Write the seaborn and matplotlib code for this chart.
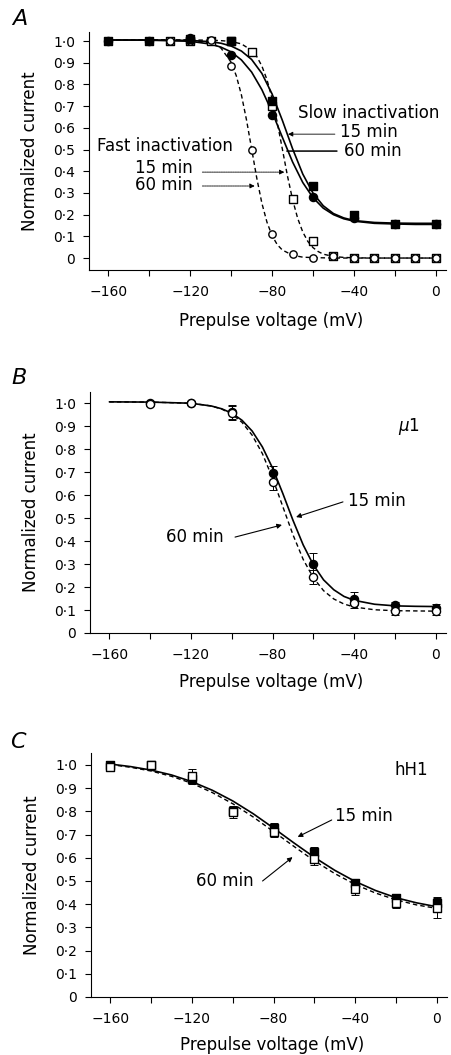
import matplotlib
matplotlib.use("Agg")
import matplotlib.pyplot as plt
import seaborn as sns
import pandas as pd

# ---- panel A: slow / fast inactivation (mu1) ----
A_V_slow = [-160, -140, -120, -100, -80, -60, -40, -20, 0]
A_slow15 = [1.0, 1.0, 1.01, 1.0, 0.725, 0.33, 0.20, 0.155, 0.155]
A_slow60 = [1.0, 1.0, 1.015, 0.935, 0.66, 0.28, 0.185, 0.155, 0.155]

A_V_fast = [-130, -120, -110, -100, -90, -80, -70, -60, -50, -40, -30, -20, -10, 0]
A_fast15 = [1.0, 1.0, 1.0, 1.0, 0.95, 0.70, 0.27, 0.08, 0.01, 0.0, 0.0, 0.0, 0.0, 0.0]
A_fast60 = [1.0, 1.0, 1.005, 0.885, 0.50, 0.11, 0.02, 0.0, 0.01, 0.0, 0.0, 0.0, 0.0, 0.0]

# fitted curves
fit_V = [-160, -140, -120, -110, -105, -100, -95, -90, -85, -80, -75, -70, -65,
         -60, -55, -50, -45, -40, -30, -20, -10, 0]
A_fit_slow15 = [1.005, 1.005, 1.003, 0.997, 0.990, 0.977, 0.954, 0.915, 0.851, 0.756, 0.635,
                0.504, 0.387, 0.299, 0.241, 0.205, 0.185, 0.173, 0.164, 0.161, 0.160, 0.160]
A_fit_slow60 = [1.005, 1.004, 0.999, 0.986, 0.972, 0.950, 0.913, 0.857, 0.776, 0.673, 0.557,
                0.443, 0.348, 0.278, 0.230, 0.200, 0.181, 0.170, 0.160, 0.157, 0.155, 0.155]
A_fit_fast15_V = [-160, -140, -120, -110, -105, -100, -95, -90, -87.5, -85, -82.5, -80, -77.5,
                  -75, -72.5, -70, -67.5, -65, -62.5, -60, -57.5, -55, -50, -45, -40, -30, -20, -10, 0]
A_fit_fast15 = [1.005, 1.005, 1.005, 1.004, 1.002, 0.998, 0.987, 0.957, 0.929, 0.885, 0.822, 0.735,
                0.626, 0.503, 0.379, 0.270, 0.183, 0.120, 0.076, 0.048, 0.030, 0.018, 0.007,
                0.003, 0.001, 0, 0, 0, 0]
A_fit_fast60_V = [-160, -140, -120, -110, -105, -100, -97.5, -95, -92.5, -90, -87.5, -85, -82.5,
                  -80, -77.5, -75, -70, -65, -60, -50, -40, -30, -20, -10, 0]
A_fit_fast60 = [1.005, 1.005, 1.004, 0.992, 0.968, 0.902, 0.840, 0.752, 0.636, 0.503, 0.369, 0.253,
                0.165, 0.103, 0.062, 0.037, 0.013, 0.004, 0.002, 0, 0, 0, 0, 0, 0]

# ---- panel B: mu1 ----
B_V = [-140, -120, -100, -80, -60, -40, -20, 0]
B_15 = [1.0, 1.0, 0.96, 0.695, 0.30, 0.15, 0.12, 0.11]
B_15_err = [0.01, 0.01, 0.03, 0.03, 0.05, 0.03, 0.015, 0.015]
B_60 = [0.995, 1.0, 0.955, 0.655, 0.245, 0.13, 0.095, 0.095]
B_60_err = [0.01, 0.01, 0.03, 0.035, 0.03, 0.02, 0.015, 0.015]
B_fit15 = [1.005, 1.004, 0.999, 0.987, 0.975, 0.956, 0.925, 0.878, 0.809, 0.717, 0.607,
           0.490, 0.383, 0.296, 0.231, 0.188, 0.159, 0.142, 0.125, 0.118, 0.116, 0.115]
B_fit60 = [1.005, 1.004, 0.999, 0.987, 0.974, 0.952, 0.916, 0.860, 0.780, 0.673, 0.550,
           0.427, 0.320, 0.240, 0.184, 0.148, 0.126, 0.113, 0.101, 0.097, 0.096, 0.095]

# ---- panel C: hH1 ----
C_V = [-160, -140, -120, -100, -80, -60, -40, -20, 0]
C_15 = [1.0, 1.0, 0.94, 0.80, 0.73, 0.625, 0.49, 0.427, 0.405]
C_15_err = [0.01, 0.01, 0.02, 0.02, 0.02, 0.02, 0.015, 0.015, 0.02]
C_60 = [0.99, 1.0, 0.953, 0.797, 0.71, 0.595, 0.465, 0.405, 0.384]
C_60_err = [0.01, 0.01, 0.03, 0.025, 0.02, 0.025, 0.025, 0.02, 0.045]
C_fit_V = [-160, -150, -140, -130, -120, -110, -100, -90, -80, -70, -60, -50, -40, -30, -20, -10, 0]
C_fit15 = [1.004, 0.993, 0.978, 0.957, 0.928, 0.891, 0.845, 0.790, 0.728, 0.664, 0.602,
           0.546, 0.498, 0.459, 0.428, 0.406, 0.389]
C_fit60 = [1.002, 0.990, 0.974, 0.951, 0.921, 0.881, 0.833, 0.776, 0.713, 0.649, 0.587,
           0.532, 0.485, 0.448, 0.419, 0.397, 0.382]

y_ticks = [i / 10 for i in range(11)]
y_ticklabels = ["0"] + ["0\u00b7%d" % i for i in range(1, 10)] + ["1\u00b70"]
x_ticks = list(range(-160, 1, 20))
x_ticklabels = ["\u2212160", "", "\u2212120", "", "\u221280", "", "\u221240", "", "0"]

sns.set_style("ticks")
plt.rcParams["font.family"] = ["DejaVu Sans"]
plt.rcParams.update({"text.color": "black", "axes.labelcolor": "black",
                     "xtick.color": "black", "ytick.color": "black",
                     "axes.edgecolor": "black"})

fig = plt.figure(figsize=(4.52, 10.55), dpi=100)
axA = fig.add_axes([0.1969, 0.7441, 0.7898, 0.2252])
axB = fig.add_axes([0.1991, 0.4000, 0.7876, 0.2289])
axC = fig.add_axes([0.2013, 0.05498, 0.7876, 0.2309])

DASH = (0, (3.2, 2.2))
LW = 1.2


def curve(ax, x, y, dashed=False):
    df = pd.DataFrame({"V": x, "I": y})
    sns.lineplot(data=df, x="V", y="I", ax=ax, color="black", lw=LW if not dashed else 1.0,
                 linestyle=DASH if dashed else "-", estimator=None, sort=False, zorder=2)


def points(ax, x, y, marker, filled, size=30):
    df = pd.DataFrame({"V": x, "I": y})
    sns.scatterplot(data=df, x="V", y="I", ax=ax, marker=marker, s=size,
                    color="black" if filled else "white", edgecolor="black",
                    linewidth=1.0, zorder=4)


def errbars(ax, x, y, err):
    ax.errorbar(x, y, yerr=err, fmt="none", ecolor="black", elinewidth=0.7,
                capsize=3, capthick=0.7, zorder=3)


def style(ax, ylim, ylabel_y=-0.14, xlabel_y=-0.17):
    ax.set_xlim(-169.5, 5)
    ax.set_ylim(*ylim)
    ax.set_xticks(x_ticks)
    ax.set_xticklabels(x_ticklabels)
    ax.set_yticks(y_ticks)
    ax.set_yticklabels(y_ticklabels)
    ax.tick_params(axis="both", direction="out", length=4, width=0.8, labelsize=10)
    ax.tick_params(axis="x", pad=7)
    ax.tick_params(axis="y", pad=6)
    for s in ("top", "right"):
        ax.spines[s].set_visible(False)
    for s in ("left", "bottom"):
        ax.spines[s].set_linewidth(0.8)
    ax.set_xlabel("Prepulse voltage (mV)", fontsize=12)
    ax.set_ylabel("Normalized current", fontsize=12)
    ax.xaxis.set_label_coords(0.51, xlabel_y)
    ax.yaxis.set_label_coords(ylabel_y, 0.5)


# ---------- A ----------
curve(axA, A_fit_fast15_V, A_fit_fast15, dashed=True)
curve(axA, A_fit_fast60_V, A_fit_fast60, dashed=True)
curve(axA, fit_V, A_fit_slow15)
curve(axA, fit_V, A_fit_slow60)
points(axA, A_V_fast, A_fast15, "s", False, 26)
points(axA, A_V_fast, A_fast60, "o", False, 28)
points(axA, A_V_slow, A_slow15, "s", True, 30)
points(axA, A_V_slow, A_slow60, "o", True, 34)
style(axA, (-0.055, 1.04), xlabel_y=-0.175)

axA.text(-67.3, 0.668, "Slow inactivation", fontsize=12, va="center", ha="left")
axA.text(-46.8, 0.581, "15 min", fontsize=12, va="center", ha="left")
axA.text(-44.9, 0.493, "60 min", fontsize=12, va="center", ha="left")
axA.annotate("", xy=(-72.2, 0.571), xytext=(-49.3, 0.571),
             arrowprops=dict(arrowstyle="-|>", lw=0.6, color="black", mutation_scale=7,
                             shrinkA=0, shrinkB=0))
axA.annotate("", xy=(-72.8, 0.493), xytext=(-48.3, 0.493),
             arrowprops=dict(arrowstyle="-", lw=1.1, color="black", shrinkA=0, shrinkB=0))
axA.text(-165.4, 0.516, "Fast inactivation", fontsize=12, va="center", ha="left")
axA.text(-119, 0.415, "15 min", fontsize=12, va="center", ha="right")
axA.text(-119, 0.336, "60 min", fontsize=12, va="center", ha="right")
axA.annotate("", xy=(-74.0, 0.396), xytext=(-114.1, 0.396),
             arrowprops=dict(arrowstyle="-|>", lw=0.6, color="black", mutation_scale=7,
                             linestyle=(0, (2, 0.8)), shrinkA=0, shrinkB=0))
axA.annotate("", xy=(-88.5, 0.332), xytext=(-114.1, 0.332),
             arrowprops=dict(arrowstyle="-|>", lw=0.6, color="black", mutation_scale=7,
                             linestyle=(0, (2, 0.8)), shrinkA=0, shrinkB=0))

# ---------- B ----------
curve(axB, fit_V, B_fit60, dashed=True)
curve(axB, fit_V, B_fit15)
errbars(axB, B_V, B_15, B_15_err)
errbars(axB, B_V, B_60, B_60_err)
points(axB, B_V, B_15, "o", True, 34)
points(axB, B_V, B_60, "o", False, 34)
style(axB, (0, 1.05), xlabel_y=-0.165)
axB.text(-18.6, 0.9, r"$\mu$1", fontsize=12, va="center", ha="left")
axB.text(-43.1, 0.574, "15 min", fontsize=12, va="center", ha="left")
axB.annotate("", xy=(-68.5, 0.504), xytext=(-45.5, 0.570),
             arrowprops=dict(arrowstyle="-|>", lw=0.8, color="black", mutation_scale=7,
                             shrinkA=0, shrinkB=0))
axB.text(-132.1, 0.417, "60 min", fontsize=12, va="center", ha="left")
axB.annotate("", xy=(-75.4, 0.47), xytext=(-98.4, 0.417),
             arrowprops=dict(arrowstyle="-|>", lw=0.8, color="black", mutation_scale=7,
                             shrinkA=0, shrinkB=0))

# ---------- C ----------
curve(axC, C_fit_V, C_fit60, dashed=True)
curve(axC, C_fit_V, C_fit15)
errbars(axC, C_V, C_15, C_15_err)
errbars(axC, C_V, C_60, C_60_err)
points(axC, C_V, C_15, "s", True, 32)
points(axC, C_V, C_60, "s", False, 30)
style(axC, (0, 1.05), xlabel_y=-0.16)
axC.text(-20.6, 0.978, "hH1", fontsize=12, va="center", ha="left")
axC.text(-50.1, 0.78, "15 min", fontsize=12, va="center", ha="left")
axC.annotate("", xy=(-68.2, 0.69), xytext=(-51.5, 0.763),
             arrowprops=dict(arrowstyle="-|>", lw=0.8, color="black", mutation_scale=7,
                             shrinkA=0, shrinkB=0))
axC.text(-117.8, 0.5, "60 min", fontsize=12, va="center", ha="left")
axC.annotate("", xy=(-70.7, 0.603), xytext=(-85.4, 0.5),
             arrowprops=dict(arrowstyle="-|>", lw=0.8, color="black", mutation_scale=7,
                             shrinkA=0, shrinkB=0))

# panel letters
fig.text(0.026, 0.982, "A", fontsize=16, style="italic", va="center", ha="left")
fig.text(0.026, 0.6417, "B", fontsize=16, style="italic", va="center", ha="left")
fig.text(0.022, 0.2967, "C", fontsize=16, style="italic", va="center", ha="left")

fig.savefig("out.png", dpi=100, facecolor="white")
